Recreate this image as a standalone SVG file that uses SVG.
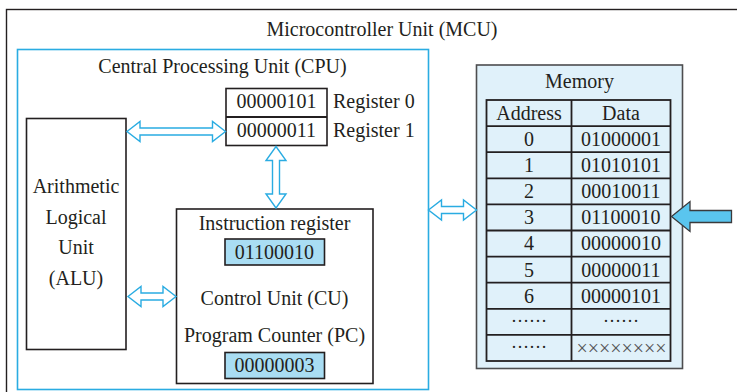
<svg xmlns="http://www.w3.org/2000/svg" width="737" height="392" viewBox="0 0 737 392">
  <style>
    text { font-family: "Liberation Serif", "Times New Roman", serif; font-size: 20px; fill: #231f20; }
    .mid { text-anchor: middle; }
    .box { fill: #ffffff; stroke: #231f20; stroke-width: 1.6; }
    .reg { fill: #a9ddf3; stroke: #231f20; stroke-width: 1.6; }
    .cpu { fill: none; stroke: #2aace2; stroke-width: 1.6; }
    .mcu { fill: none; stroke: #231f20; stroke-width: 1.4; }
    .mem { fill: #e0f1fa; stroke: #4d4d4f; stroke-width: 1.6; }
    .grid { fill: none; stroke: #231f20; stroke-width: 1.8; }
    .bus { fill: #ffffff; stroke: #2aace2; stroke-width: 1.4; stroke-linejoin: miter; }
    .ptr { fill: #5ac5ee; stroke: #3a3a3c; stroke-width: 1.3; }
    .dots { font-size: 18px; }
    .cross { fill: #555557; }
  </style>

  <!-- MCU enclosure (open to the right and bottom edges) -->
  <g id="mcu">
    <rect class="mcu" x="6.5" y="9.5" width="740" height="400"/>
    <text class="mid" x="382" y="36">Microcontroller Unit (MCU)</text>
  </g>

  <!-- CPU enclosure -->
  <g id="cpu">
    <rect class="cpu" x="17.5" y="49.5" width="411" height="340"/>
    <text class="mid" x="222.5" y="73">Central Processing Unit (CPU)</text>
  </g>

  <!-- Registers -->
  <g id="registers">
    <rect class="box" x="226" y="88.5" width="101" height="57"/>
    <line class="grid" x1="226" y1="117" x2="327" y2="117" stroke-width="1.6"/>
    <text class="mid" x="276.5" y="108">00000101</text>
    <text class="mid" x="276.5" y="137">00000011</text>
    <text x="333" y="108">Register 0</text>
    <text x="333" y="137">Register 1</text>
  </g>

  <!-- ALU -->
  <g id="alu">
    <rect class="box" x="26.5" y="118.5" width="99.5" height="231"/>
    <text class="mid" x="76" y="193">Arithmetic</text>
    <text class="mid" x="76" y="223.5">Logical</text>
    <text class="mid" x="76" y="254">Unit</text>
    <text class="mid" x="76" y="284.5">(ALU)</text>
  </g>

  <!-- Control unit -->
  <g id="cu">
    <rect class="box" x="176.5" y="209" width="196.5" height="174.5"/>
    <text class="mid" x="274.5" y="229.5">Instruction register</text>
    <rect class="reg" x="225" y="239" width="99.5" height="26"/>
    <text class="mid" x="274.5" y="258.5">01100010</text>
    <text class="mid" x="274.5" y="304.5">Control Unit (CU)</text>
    <text class="mid" x="274.5" y="341.5">Program Counter (PC)</text>
    <rect class="reg" x="225" y="352.5" width="99.5" height="26"/>
    <text class="mid" x="274.5" y="372">00000003</text>
  </g>

  <!-- Memory -->
  <g id="memory">
    <rect class="mem" x="476.5" y="65" width="206" height="303.5"/>
    <text class="mid" x="579.5" y="87.5">Memory</text>
    <rect class="grid" x="486.5" y="100" width="184" height="261"/>
    <line class="grid" x1="571.5" y1="100" x2="571.5" y2="361"/>
    <g class="grid">
      <line x1="486.5" y1="126.1" x2="670.5" y2="126.1"/>
      <line x1="486.5" y1="152.2" x2="670.5" y2="152.2"/>
      <line x1="486.5" y1="178.3" x2="670.5" y2="178.3"/>
      <line x1="486.5" y1="204.4" x2="670.5" y2="204.4"/>
      <line x1="486.5" y1="230.5" x2="670.5" y2="230.5"/>
      <line x1="486.5" y1="256.6" x2="670.5" y2="256.6"/>
      <line x1="486.5" y1="282.7" x2="670.5" y2="282.7"/>
      <line x1="486.5" y1="308.8" x2="670.5" y2="308.8"/>
      <line x1="486.5" y1="334.9" x2="670.5" y2="334.9"/>
    </g>
    <text class="mid" x="529" y="119.5">Address</text>
    <text class="mid" x="621" y="119.5">Data</text>
    <text class="mid" x="529" y="146">0</text>
    <text class="mid" x="621" y="146">01000001</text>
    <text class="mid" x="529" y="172.1">1</text>
    <text class="mid" x="621" y="172.1">01010101</text>
    <text class="mid" x="529" y="198.2">2</text>
    <text class="mid" x="621" y="198.2">00010011</text>
    <text class="mid" x="529" y="224.3">3</text>
    <text class="mid" x="621" y="224.3">01100010</text>
    <text class="mid" x="529" y="250.4">4</text>
    <text class="mid" x="621" y="250.4">00000010</text>
    <text class="mid" x="529" y="276.5">5</text>
    <text class="mid" x="621" y="276.5">00000011</text>
    <text class="mid" x="529" y="302.6">6</text>
    <text class="mid" x="621" y="302.6">00000101</text>
    <text class="mid dots" x="529" y="322">……</text>
    <text class="mid dots" x="621" y="322">……</text>
    <text class="mid dots" x="529" y="348">……</text>
    <text class="mid cross" x="621.5" y="355">××××××××</text>
  </g>

  <!-- Buses and pointer -->
  <g id="connectors">
    <polygon class="bus" points="127,131.5 140,121.5 140,128 212.5,128 212.5,121.5 225.5,131.5 212.5,141.5 212.5,135 140,135 140,141.5"/>
    <polygon class="bus" points="276,146.5 286,160.5 279.5,160.5 279.5,194 286,194 276,208 266,194 272.5,194 272.5,160.5 266,160.5"/>
    <polygon class="bus" points="128,296.5 141,286.5 141,293 163,293 163,286.5 176,296.5 163,306.5 163,300 141,300 141,306.5"/>
    <polygon class="bus" points="428.5,210 441.5,200 441.5,206.5 463.5,206.5 463.5,200 476.5,210 463.5,220 463.5,213.5 441.5,213.5 441.5,220"/>
    <polygon class="ptr" points="671.5,216.5 690,201.5 690,210.5 731.5,210.5 731.5,222.5 690,222.5 690,231.5"/>
  </g>
</svg>
